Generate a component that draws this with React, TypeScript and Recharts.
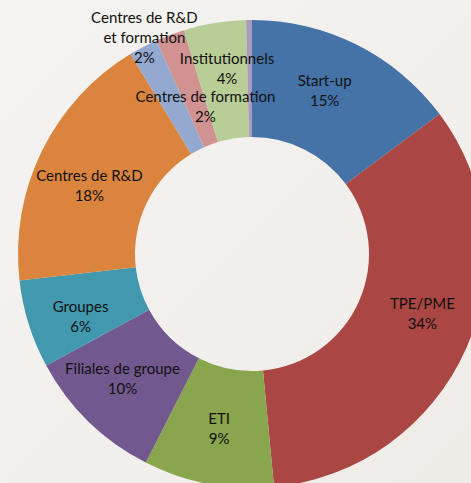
import React from "react";
import { PieChart, Pie, Cell } from "recharts";

const categories = [
  "Start-up",
  "TPE/PME",
  "ETI",
  "Filiales de groupe",
  "Groupes",
  "Centres de R&D",
  "Centres de R&D\net formation",
  "Centres de formation",
  "Institutionnels",
  "Autres",
];
const values = [14.8, 33.7, 9.0, 9.6, 6.1, 18.1, 2.0, 2.0, 4.3, 0.4];
const colors = [
  "#4572A7",
  "#AA4643",
  "#89A54E",
  "#71588F",
  "#4198AF",
  "#DB843D",
  "#93A9CF",
  "#D19392",
  "#B9CD96",
  "#A99BBD",
];
const showLabel = [true, true, true, true, true, true, true, true, true, false];

// label nudges (px) relative to the default mid-ring position
const labelShift: Record<string, [number, number]> = {
  "Start-up": [-6, -7],
  "TPE/PME": [10, -12],
  ETI: [0, 2],
  "Filiales de groupe": [-7, -2],
  Groupes: [-4, 9],
  "Centres de R&D": [-5, 8],
  "Centres de R&D\net formation": [-26, -62],
  "Centres de formation": [15, 16],
  Institutionnels: [3, -13],
};

const data = categories.map((name, i) => ({ name, value: values[i] }));

const RAD = Math.PI / 180;

const renderLabel = (props: any) => {
  const { cx, cy, midAngle, innerRadius, outerRadius, index, name, percent } = props;
  if (!showLabel[index]) return null;
  const r = (innerRadius + outerRadius) / 2;
  const shift = labelShift[name] || [0, 0];
  const x = cx + r * Math.cos(-midAngle * RAD) + shift[0];
  const y = cy + r * Math.sin(-midAngle * RAD) + shift[1];
  const lines = [...String(name).split("\n"), `${Math.round(percent * 100)}%`];
  const lh = 20;
  const y0 = y - ((lines.length - 1) * lh) / 2;
  return (
    <text
      x={x}
      y={y0}
      textAnchor="middle"
      dominantBaseline="central"
      fill="#111"
      fontSize={15}
      fontFamily="Lato, 'Open Sans', sans-serif"
    >
      {lines.map((l, k) => (
        <tspan key={k} x={x} y={y0 + k * lh}>
          {l}
        </tspan>
      ))}
    </text>
  );
};

export default function App() {
  return (
    <div
      style={{
        position: "absolute",
        left: 0,
        top: 0,
        width: 471,
        height: 483,
        overflow: "hidden",
        background: "linear-gradient(135deg, #f5f3f1 0%, #efece8 100%)",
      }}
    >
      <PieChart width={471} height={483} margin={{ top: 0, right: 0, bottom: 0, left: 0 }}>
        <Pie
          data={data}
          dataKey="value"
          nameKey="name"
          cx={252}
          cy={254}
          innerRadius={117}
          outerRadius={234}
          startAngle={90}
          endAngle={-270}
          stroke="none"
          labelLine={false}
          label={renderLabel}
          isAnimationActive={false}
        >
          {data.map((d, i) => (
            <Cell key={d.name} fill={colors[i]} />
          ))}
        </Pie>
      </PieChart>
    </div>
  );
}
